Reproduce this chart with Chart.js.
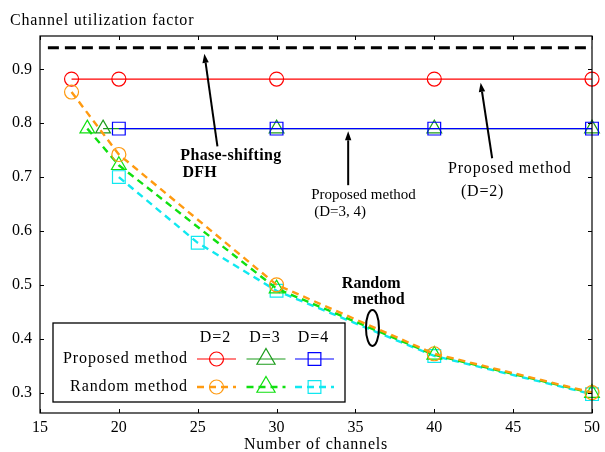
<!DOCTYPE html>
<html><head><meta charset="utf-8">
<script src="https://cdn.jsdelivr.net/npm/chart.js@4/dist/chart.umd.min.js"></script>
<style>html,body{margin:0;padding:0;background:#fff}#wrap{width:605px;height:452px}</style>
</head><body><div id="wrap"><canvas id="c" width="605" height="452"></canvas></div>
<script>
const yTitle = 'Channel utilization factor';
const xTitle = 'Number of channels';
const xTicks = [15, 20, 25, 30, 35, 40, 45, 50];
const yTicks = [0.3, 0.4, 0.5, 0.6, 0.7, 0.8, 0.9];

const dfhChannels = [15.5, 50];
const dfhValues = [0.94, 0.94];
const propD2Channels = [17, 20, 30, 40, 50];
const propD2Values = [0.882, 0.882, 0.882, 0.882, 0.882];
const propD3Channels = [19, 30, 40, 50];
const propD3Values = [0.79, 0.79, 0.79, 0.79];
const propD4Channels = [20, 30, 40, 50];
const propD4Values = [0.79, 0.79, 0.79, 0.79];
const randD2Channels = [17, 20, 30, 40, 50];
const randD2Values = [0.858, 0.742, 0.500, 0.372, 0.300];
const randD3Channels = [18, 20, 30, 40, 50];
const randD3Values = [0.790, 0.722, 0.493, 0.370, 0.299];
const randD4Channels = [20, 25, 30, 40, 50];
const randD4Values = [0.700, 0.578, 0.489, 0.368, 0.297];

const legendHeaders = ['D=2', 'D=3', 'D=4'];
const legendRows = ['Proposed method', 'Random method'];

const serif = '"Liberation Serif", "Times New Roman", serif';
const pts = (xs, ys) => xs.map((x, i) => ({x: x, y: ys[i]}));
const C = {red:'#ff0000', dgreen:'#1c9c1c', blue:'#0000ff', orange:'#ff9a10', lgreen:'#10e010', cyan:'#10e8f0'};

function ds(label, xs, ys, color, style, radius, dashed, bw) {
  return {label, data: pts(xs, ys), borderColor: color, borderWidth: bw,
    borderDash: dashed ? [7, 5] : [], pointStyle: style, pointRadius: radius,
    pointBorderColor: color, pointBackgroundColor: 'rgba(0,0,0,0)', pointBorderWidth: 1.2,
    pointHoverRadius: radius, tension: 0, clip: false, fill: false};
}

const dRandD2 = ds('Random D=2', randD2Channels, randD2Values, C.orange, 'circle', 7, true, 2.4);
const dRandD3 = ds('Random D=3', randD3Channels, randD3Values, C.lgreen, 'triangle', 8.5, true, 2.4);
const dRandD4 = ds('Random D=4', randD4Channels, randD4Values, C.cyan, 'rect', 9, true, 2.4);
const dPropD2 = ds('Proposed D=2', propD2Channels, propD2Values, C.red, 'circle', 7, false, 1.2);
const dPropD3 = ds('Proposed D=3', propD3Channels, propD3Values, C.dgreen, 'triangle', 8.5, false, 1.2);
const dPropD4 = ds('Proposed D=4', propD4Channels, propD4Values, C.blue, 'rect', 9, false, 1.2);
const dDfh = {label:'Phase-shifting DFH', data: pts(dfhChannels, dfhValues), borderColor:'#000', borderWidth:3,
   borderDash:[11, 6], pointRadius:0, clip:false, fill:false};

// first dataset is drawn on top
const datasets = [dRandD2, dRandD3, dRandD4, dPropD2, dPropD4, dPropD3, dDfh];

const legendStyles = [
  [dPropD2, dPropD3, dPropD4],
  [dRandD2, dRandD3, dRandD4]
];

function arrow(ctx, x1, y1, x2, y2) {
  const ang = Math.atan2(y2 - y1, x2 - x1), L = 9, W = 3.2;
  const bx = x2 - L * Math.cos(ang), by = y2 - L * Math.sin(ang);
  ctx.beginPath(); ctx.moveTo(x1, y1); ctx.lineTo(bx, by); ctx.stroke();
  ctx.beginPath(); ctx.moveTo(x2, y2);
  ctx.lineTo(bx + W * Math.sin(ang), by - W * Math.cos(ang));
  ctx.lineTo(bx - W * Math.sin(ang), by + W * Math.cos(ang));
  ctx.closePath(); ctx.fill();
}

const deco = {
  id: 'deco',
  afterDatasetsDraw(chart) {
    const {ctx, chartArea: a, scales: {x, y}} = chart;
    ctx.save();
    // frame
    ctx.strokeStyle = '#000'; ctx.lineWidth = 1.2; ctx.setLineDash([]);
    ctx.strokeRect(a.left, a.top, a.right - a.left, a.bottom - a.top);
    ctx.lineWidth = 1;
    xTicks.forEach(v => {
      const px = Math.round(x.getPixelForValue(v)) + 0.5;
      ctx.beginPath(); ctx.moveTo(px, a.bottom); ctx.lineTo(px, a.bottom - 4);
      ctx.moveTo(px, a.top); ctx.lineTo(px, a.top + 4); ctx.stroke();
    });
    yTicks.forEach(v => {
      const py = Math.round(y.getPixelForValue(v)) + 0.5;
      ctx.beginPath(); ctx.moveTo(a.left, py); ctx.lineTo(a.left + 4, py);
      ctx.moveTo(a.right, py); ctx.lineTo(a.right - 4, py); ctx.stroke();
    });
    // titles
    ctx.fillStyle = '#000'; ctx.textBaseline = 'middle';
    ctx.letterSpacing = '0.8px';
    ctx.font = '16px ' + serif; ctx.textAlign = 'left';
    ctx.fillText(yTitle, 10, 21);
    ctx.textAlign = 'center';
    ctx.fillText(xTitle, (a.left + a.right) / 2, 445);
    // annotations
    ctx.lineWidth = 2; ctx.strokeStyle = '#000'; ctx.fillStyle = '#000';
    const P = (vx, vy) => [x.getPixelForValue(vx), y.getPixelForValue(vy)];
    const arr = (t, h) => { const p = P(t[0], t[1]), q = P(h[0], h[1]); arrow(ctx, p[0], p[1], q[0], q[1]); };
    arr([26.25, 0.757], [25.42, 0.929]);
    arr([34.54, 0.685], [34.54, 0.785]);
    arr([43.67, 0.735], [42.94, 0.875]);
    const txt = (s, vx, vy, f, ls) => { const p = P(vx, vy); ctx.font = f; ctx.letterSpacing = ls; ctx.textAlign = 'left'; ctx.fillText(s, p[0], p[1]); };
    txt('Phase-shifting', 23.9, 0.739, 'bold 16px ' + serif, '0.3px');
    txt('DFH', 24.03, 0.707, 'bold 16px ' + serif, '0.3px');
    txt('Proposed method', 32.2, 0.666, '15px ' + serif, '0px');
    txt('(D=3, 4)', 32.39, 0.635, '15px ' + serif, '0px');
    txt('Proposed method', 40.87, 0.716, '16px ' + serif, '0.8px');
    txt('(D=2)', 41.69, 0.672, '16px ' + serif, '0.8px');
    txt('Random', 34.14, 0.501, 'bold 16px ' + serif, '0px');
    txt('method', 34.85, 0.472, 'bold 16px ' + serif, '0px');
    const e = P(36.08, 0.42);
    ctx.beginPath(); ctx.ellipse(e[0], e[1], 6.5, 18, 0, 0, Math.PI * 2); ctx.stroke();
    // legend box
    const L0 = a.left + 13, T0 = a.bottom - 90, R0 = a.left + 305, B0 = a.bottom - 11;
    ctx.fillStyle = '#fff'; ctx.fillRect(L0, T0, R0 - L0, B0 - T0);
    ctx.lineWidth = 1.3; ctx.strokeStyle = '#000'; ctx.strokeRect(L0, T0, R0 - L0, B0 - T0);
    ctx.fillStyle = '#000'; ctx.font = '16px ' + serif; ctx.letterSpacing = '0.9px';
    const cols = [216.5, 266, 314.5].map(c => c - 40 + a.left);
    const rowsY = [B0 - 43, B0 - 15];
    ctx.textAlign = 'center';
    legendHeaders.forEach((h, i) => ctx.fillText(h, cols[i] - 1, T0 + 15));
    ctx.textAlign = 'right';
    legendRows.forEach((r, i) => ctx.fillText(r, L0 + 135, rowsY[i]));
    ctx.letterSpacing = '0px';
    legendStyles.forEach((row, ri) => row.forEach((d, ci) => {
      const cx = cols[ci], cy = rowsY[ri];
      ctx.strokeStyle = d.borderColor; ctx.lineWidth = d.borderWidth;
      ctx.setLineDash(d.borderDash);
      ctx.beginPath(); ctx.moveTo(cx - 19.5, cy); ctx.lineTo(cx + 19.5, cy); ctx.stroke();
      ctx.setLineDash([]);
      ctx.fillStyle = 'rgba(0,0,0,0)'; ctx.lineWidth = 1.2;
      const r = d.pointStyle === 'triangle' ? 10.5 : d.pointRadius;
      Chart.helpers.drawPoint(ctx, {pointStyle: d.pointStyle, radius: r, rotation: 0, borderWidth: 1.2}, cx, cy);
      ctx.fillStyle = '#000';
    }));
    ctx.restore();
  }
};

new Chart(document.getElementById('c'), {
  type: 'line',
  data: {datasets},
  options: {
    responsive: false, animation: false, devicePixelRatio: 1,
    layout: {padding: {top: 36, right: 11, left: 0, bottom: 0}},
    plugins: {legend: {display: false}, tooltip: {enabled: false}, title: {display: false}},
    scales: {
      x: {type: 'linear', min: 15, max: 50,
        afterBuildTicks: s => { s.ticks = xTicks.map(v => ({value: v})); },
        afterFit: s => { s.height = 39; },
        grid: {display: false, drawTicks: false}, border: {display: false},
        ticks: {color: '#000', font: {family: serif, size: 16}, padding: 5, maxRotation: 0, callback: v => String(v)}},
      y: {type: 'linear', min: 0.262, max: 0.962,
        afterBuildTicks: s => { s.ticks = yTicks.map(v => ({value: v})); },
        afterFit: s => { s.width = 40; },
        grid: {display: false, drawTicks: false}, border: {display: false},
        ticks: {color: '#000', font: {family: serif, size: 16}, padding: 8, callback: v => Number(v).toFixed(1)}}
    }
  },
  plugins: [deco]
});
</script></body></html>
